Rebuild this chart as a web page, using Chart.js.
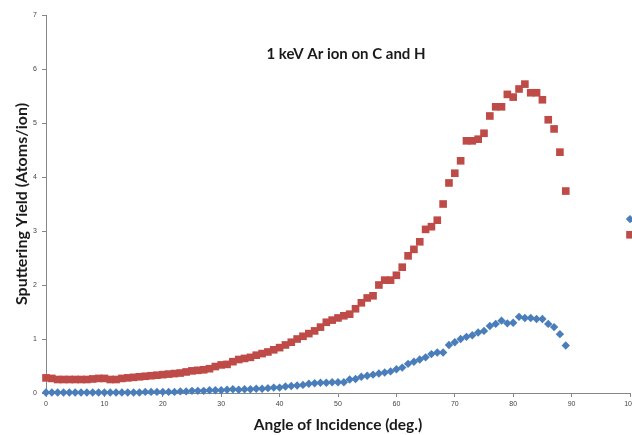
<!DOCTYPE html>
<html>
<head>
<meta charset="utf-8">
<script src="https://cdn.jsdelivr.net/npm/chart.js@4/dist/chart.umd.min.js"></script>
<style>
  body { margin: 0; background: #fff; }
  #wrap { width: 632px; height: 435px; }
</style>
</head>
<body>
<div id="wrap"><canvas id="chart" width="632" height="435"></canvas></div>
<script>
// angle of incidence (deg.)
const angles = [
  0, 1, 2, 3, 4, 5, 6, 7, 8, 9,
  10, 11, 12, 13, 14, 15, 16, 17, 18, 19,
  20, 21, 22, 23, 24, 25, 26, 27, 28, 29,
  30, 31, 32, 33, 34, 35, 36, 37, 38, 39,
  40, 41, 42, 43, 44, 45, 46, 47, 48, 49,
  50, 51, 52, 53, 54, 55, 56, 57, 58, 59,
  60, 61, 62, 63, 64, 65, 66, 67, 68, 69,
  70, 71, 72, 73, 74, 75, 76, 77, 78, 79,
  80, 81, 82, 83, 84, 85, 86, 87, 88, 89,
  100
];

// red squares
const yieldRed = [
  0.28, 0.27, 0.25, 0.25, 0.25, 0.25, 0.25, 0.25, 0.26, 0.27,
  0.27, 0.25, 0.25, 0.27, 0.28, 0.29, 0.30, 0.31, 0.32, 0.33,
  0.34, 0.35, 0.36, 0.37, 0.39, 0.41, 0.42, 0.43, 0.45, 0.49,
  0.52, 0.53, 0.58, 0.62, 0.64, 0.66, 0.70, 0.73, 0.76, 0.80,
  0.84, 0.89, 0.94, 1.00, 1.05, 1.10, 1.15, 1.22, 1.31, 1.35,
  1.39, 1.43, 1.46, 1.56, 1.67, 1.76, 1.80, 2.00, 2.09, 2.09,
  2.18, 2.33, 2.54, 2.66, 2.80, 3.03, 3.08, 3.20, 3.50, 3.89,
  4.07, 4.30, 4.67, 4.67, 4.70, 4.81, 5.13, 5.30, 5.30, 5.53,
  5.48, 5.63, 5.72, 5.56, 5.56, 5.43, 5.06, 4.89, 4.46, 3.74,
  2.93
];

// blue diamonds
const yieldBlue = [
  0.01, 0.01, 0.01, 0.01, 0.01, 0.01, 0.01, 0.01, 0.01, 0.01,
  0.01, 0.01, 0.01, 0.01, 0.01, 0.01, 0.01, 0.02, 0.02, 0.02,
  0.02, 0.02, 0.02, 0.03, 0.03, 0.04, 0.04, 0.04, 0.05, 0.05,
  0.05, 0.06, 0.07, 0.06, 0.07, 0.07, 0.08, 0.08, 0.09, 0.10,
  0.10, 0.12, 0.13, 0.14, 0.15, 0.17, 0.18, 0.19, 0.19, 0.20,
  0.20, 0.20, 0.25, 0.26, 0.30, 0.32, 0.34, 0.36, 0.38, 0.40,
  0.44, 0.47, 0.54, 0.58, 0.62, 0.66, 0.72, 0.75, 0.75, 0.89,
  0.94, 1.00, 1.04, 1.07, 1.12, 1.15, 1.24, 1.28, 1.34, 1.29,
  1.30, 1.41, 1.39, 1.39, 1.37, 1.37, 1.28, 1.22, 1.09, 0.88,
  3.22
];

const chartTitle = '1 keV Ar ion on C and H';

const toPoints = (ys) => angles.map((a, i) => ({ x: a, y: ys[i] }));

const axisGrey = '#868686';
const tickFont = { family: 'Liberation Sans', size: 7 };

// title drawn inside the plot area
const innerTitle = {
  id: 'innerTitle',
  afterDraw(chart) {
    const { ctx, chartArea } = chart;
    ctx.save();
    ctx.font = 'bold 15px Lato';
    ctx.fillStyle = '#1a1a1a';
    ctx.textAlign = 'center';
    ctx.textBaseline = 'middle';
    ctx.fillText(chartTitle, chartArea.left + 300, chartArea.top + 39);
    ctx.restore();
  }
};

new Chart(document.getElementById('chart'), {
  type: 'scatter',
  data: {
    datasets: [
      {
        label: 'C',
        data: toPoints(yieldBlue),
        pointStyle: 'rectRot',
        pointRadius: 4.2,
        backgroundColor: '#4A7EBB',
        borderColor: '#4A7EBB',
        borderWidth: 0,
        clip: false
      },
      {
        label: 'H',
        data: toPoints(yieldRed),
        pointStyle: 'rect',
        pointRadius: 5.4,
        backgroundColor: '#BE4B48',
        borderColor: '#BE4B48',
        borderWidth: 0,
        clip: false
      }
    ]
  },
  options: {
    responsive: false,
    animation: false,
    layout: { autoPadding: false, padding: { top: 15, right: 2, left: 0, bottom: 0 } },
    plugins: { legend: { display: false }, tooltip: { enabled: false } },
    scales: {
      x: {
        type: 'linear',
        min: 0,
        max: 100,
        ticks: { stepSize: 10, font: tickFont, color: '#444', padding: 3, maxRotation: 0 },
        grid: { drawOnChartArea: false, drawTicks: true, tickLength: 4, color: axisGrey },
        border: { display: true, color: axisGrey },
        title: { display: true, text: 'Angle of Incidence (deg.)', font: { family: 'Lato', size: 15.5, weight: 'bold' }, color: '#1a1a1a', padding: { top: 0, bottom: 1 } },
        afterFit: (scale) => {
          scale.height = 42;
          // let the last tick label run off the edge like the original
          scale.paddingLeft = 0;
          scale.paddingRight = 0;
        }
      },
      y: {
        min: 0,
        max: 7,
        ticks: { stepSize: 1, font: tickFont, color: '#444', padding: 5 },
        grid: { drawOnChartArea: false, drawTicks: true, tickLength: 4, color: axisGrey },
        border: { display: true, color: axisGrey },
        title: { display: true, text: 'Sputtering Yield (Atoms/ion)', font: { family: 'Lato', size: 16, weight: 'bold' }, color: '#1a1a1a', padding: { top: 12, bottom: 0 } },
        afterFit: (scale) => { scale.width = 46; }
      }
    }
  },
  plugins: [innerTitle]
});
</script>
</body>
</html>
